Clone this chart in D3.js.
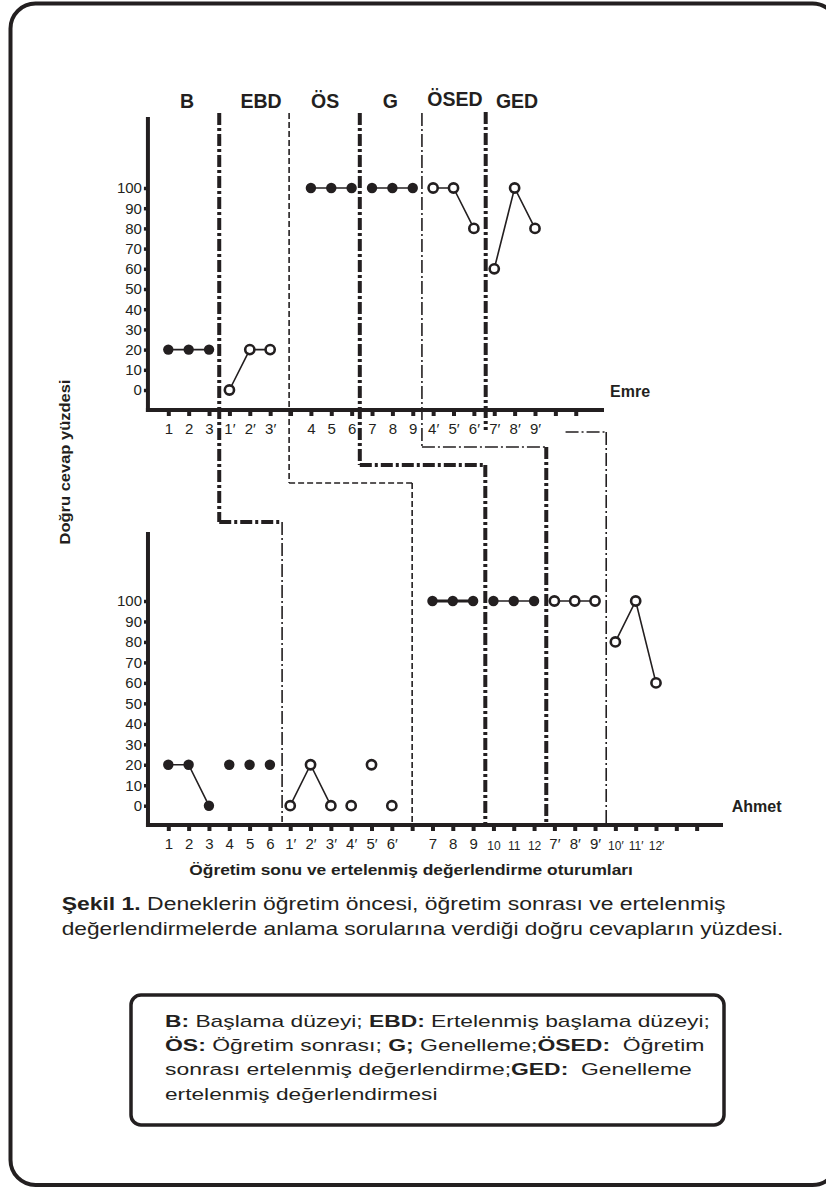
<!DOCTYPE html>
<html><head><meta charset="utf-8">
<script src="https://cdnjs.cloudflare.com/ajax/libs/d3/7.8.5/d3.min.js"></script>
<style>body{margin:0;background:#fff}svg{display:block}text{white-space:pre}</style>
</head><body>
<script>
// ---------------- DATA ----------------
const phases = ["B","EBD","ÖS","G","ÖSED","GED"];
const yTicks = [0,10,20,30,40,50,60,70,80,90,100];

// x-axis tick labels (one per slot, "" = unlabeled tick)
const emreTickLabels = ["1","2","3","1′","2′","3′","","4","5","6","7","8","9","4′","5′","6′","7′","8′","9′","",""];
const ahmetTickLabels = ["1","2","3","4","5","6","1′","2′","3′","4′","5′","6′","","7","8","9","10","11","12","7′","8′","9′","10′","11′","12′","",""];

// Emre
const emreSessions = ["1","2","3","1′","2′","3′","4","5","6","7","8","9","4′","5′","6′","7′","8′","9′"];
const emreValues   = [20,20,20, 0,20,20, 100,100,100, 100,100,100, 100,100,80, 60,100,80];
const emreRuns     = [1,1,1, 2,2,2, 3,3,3, 4,4,4, 5,5,5, 6,6,6];
const emreOpen     = [0,0,0, 1,1,1, 0,0,0, 0,0,0, 1,1,1, 1,1,1];

// Ahmet
const ahmetSessions = ["1","2","3","4","5","6","1′","2′","3′","4′","5′","6′","7","8","9","10","11","12","7′","8′","9′","10′","11′","12′"];
const ahmetValues   = [20,20,0, 20,20,20, 0,20,0, 0,20,0, 100,100,100, 100,100,100, 100,100,100, 80,100,60];
const ahmetRuns     = [1,1,1, 0,0,0, 2,2,2, 0,0,0, 3,3,3, 4,4,4, 5,5,5, 6,6,6];
const ahmetOpen     = [0,0,0, 0,0,0, 1,1,1, 1,1,1, 0,0,0, 0,0,0, 1,1,1, 1,1,1];

// ---------------- LAYOUT ----------------
const ink = "#231f20";
const font = "'Liberation Sans', Arial, Helvetica, sans-serif";
const W = 826, H = 1189;
const svg = d3.select("body").append("svg").attr("width", W).attr("height", H)
  .attr("font-family", font);

// outer frame
svg.append("rect").attr("x", 10.5).attr("y", 3.5).attr("width", 827).attr("height", 1181.5)
  .attr("rx", 25).attr("fill", "none").attr("stroke", ink).attr("stroke-width", 4);

const xTop = d3.scaleLinear().domain([0, 18]).range([168.3, 535]);
const yTop = d3.scaleLinear().domain([0, 100]).range([390, 188]);
const xBot = d3.scaleLinear().domain([0, 24]).range([168.3, 656]);
const yBot = d3.scaleLinear().domain([0, 100]).range([805.7, 601]);

const styles = {
  thick:  {w: 4,   d: "12,3,3,3"},
  thin:   {w: 1.6, d: "13,3,2,3"},
  dashed: {w: 1.6, d: "6,3"}
};
function seg(x1, y1, x2, y2, st) {
  const s = styles[st];
  svg.append("line").attr("x1", x1).attr("y1", y1).attr("x2", x2).attr("y2", y2)
    .attr("stroke", ink).attr("stroke-width", s.w).attr("stroke-dasharray", s.d);
}

// phase dividers (top panel -> bottom panel connectors)
const gTop = 113, axT = 410, axB = 825;
seg(xTop(2.5), gTop, xTop(2.5), 522, "thick");
seg(xTop(2.5), 522, xBot(5.6) - 2, 522, "thick");
seg(xBot(5.6), 522, xBot(5.6), 822, "thin");

seg(xTop(5.93), gTop, xTop(5.93), 483, "dashed");
seg(xTop(5.93), 483, xBot(12), 483, "dashed");
seg(xBot(12), 483, xBot(12), axB, "dashed");

seg(xTop(9.4), gTop, xTop(9.4), 465, "thick");
seg(xTop(9.4), 465, xBot(15.6), 465, "thick");
seg(xBot(15.6), 465, xBot(15.6), axB, "thick");

seg(xTop(12.45), gTop, xTop(12.45), 447, "thin");
seg(xTop(12.45), 447, xBot(18.6), 447, "thin");
seg(xBot(18.6), 447, xBot(18.6), axB, "thick");

seg(xTop(15.58), 112, xTop(15.58), 430, "thick");

seg(xTop(19.5), 432, xBot(21.55), 432, "thin");
seg(xBot(21.55), 432, xBot(21.55), axB, "thin");

// ---------------- PANELS ----------------
function panel(x, y, tickLabels, axisY, axisTop, axisRight, sessions, values, runs, open, thickRun) {
  const ax = x(-1);
  // y axis ticks
  const gy = svg.append("g").attr("transform", `translate(${ax},0)`)
    .call(d3.axisLeft(y).tickValues(yTicks).tickSize(4).tickPadding(2));
  gy.select(".domain").remove();
  gy.selectAll(".tick line").attr("stroke", ink).attr("stroke-width", 3.5);
  gy.selectAll(".tick text").attr("fill", ink).attr("font-size", 15).attr("font-family", font);

  // x axis ticks
  const gx = svg.append("g").attr("transform", `translate(0,${axisY})`)
    .call(d3.axisBottom(x).tickValues(d3.range(tickLabels.length))
      .tickFormat(i => tickLabels[i]).tickSize(6).tickPadding(7));
  gx.select(".domain").remove();
  gx.selectAll(".tick line").attr("stroke", ink).attr("stroke-width", 4);
  gx.selectAll(".tick text").attr("fill", ink).attr("font-family", font)
    .attr("font-size", d => (tickLabels[d].replace("′", "").length > 1 ? 12 : 15))
    .attr("dy", d => (tickLabels[d].replace("′", "").length > 1 ? "1em" : "0.71em"));

  // axis lines
  svg.append("line").attr("x1", ax).attr("x2", ax).attr("y1", axisTop).attr("y2", axisY + 2)
    .attr("stroke", ink).attr("stroke-width", 4);
  svg.append("line").attr("x1", ax - 2).attr("x2", axisRight).attr("y1", axisY).attr("y2", axisY)
    .attr("stroke", ink).attr("stroke-width", 4);

  const pts = sessions.map((s, i) => ({slot: tickLabels.indexOf(s), v: values[i], run: runs[i], open: open[i]}));
  const line = d3.line().x(d => x(d.slot)).y(d => y(d.v));
  const groups = d3.group(pts.filter(d => d.run > 0), d => d.run);
  for (const [run, arr] of groups) {
    svg.append("path").attr("d", line(arr)).attr("fill", "none").attr("stroke", ink)
      .attr("stroke-width", run === thickRun ? 3 : 1.6);
  }
  svg.append("g").selectAll("circle").data(pts).join("circle")
    .attr("cx", d => x(d.slot)).attr("cy", d => y(d.v))
    .attr("r", d => d.open ? 4.6 : 5.2)
    .attr("fill", d => d.open ? "#fff" : ink)
    .attr("stroke", ink).attr("stroke-width", d => d.open ? 2.6 : 0);
}

panel(xTop, yTop, emreTickLabels, axT, 117, 604, emreSessions, emreValues, emreRuns, emreOpen, -1);
panel(xBot, yBot, ahmetTickLabels, axB, 532, 723, ahmetSessions, ahmetValues, ahmetRuns, ahmetOpen, 3);

// phase headers
const headerSlot = [0.92, 4.55, 7.7, 10.9, 14.07, 17.12];
const headerBase = [108, 108, 108, 108, 106, 108];
svg.append("g").selectAll("text").data(phases).join("text")
  .attr("x", (d, i) => xTop(headerSlot[i])).attr("y", (d, i) => headerBase[i])
  .attr("text-anchor", "middle").attr("font-weight", "bold").attr("font-size", 19.5)
  .attr("fill", ink).text(d => d);

// subject names
svg.append("text").attr("x", 610).attr("y", 397).attr("font-weight", "bold").attr("font-size", 16)
  .attr("fill", ink).text("Emre");
svg.append("text").attr("x", 731.7).attr("y", 812).attr("font-weight", "bold").attr("font-size", 16)
  .attr("fill", ink).text("Ahmet");

// fit helper
function fit(t, x0, y0, target, extra) {
  const w = t.node().getComputedTextLength();
  t.attr("transform", `translate(${x0},${y0})${extra || ""} scale(${target / w},1)`);
}

// axis titles
const yt = svg.append("text").attr("text-anchor", "middle").attr("font-weight", "bold")
  .attr("font-size", 15).attr("fill", ink).text("Doğru cevap yüzdesi");
fit(yt, 70, 462, 165, " rotate(-90)");

const xt = svg.append("text").attr("font-weight", "bold").attr("font-size", 14.5)
  .attr("fill", ink).text("Öğretim sonu ve ertelenmiş değerlendirme oturumları");
fit(xt, 189.3, 875, 444);

// caption
function rich(parts, size) {
  const t = svg.append("text").attr("font-size", size).attr("fill", ink);
  parts.forEach(p => t.append("tspan").attr("font-weight", p[1] ? "bold" : "normal").text(p[0]));
  return t;
}
fit(rich([["Şekil 1.", 1], [" Deneklerin öğretim öncesi, öğretim sonrası ve ertelenmiş", 0]], 18.5), 61.7, 910, 664);
fit(rich([["değerlendirmelerde anlama sorularına verdiği doğru cevapların yüzdesi.", 0]], 18.5), 61.7, 935, 722);

// legend box
svg.append("rect").attr("x", 131).attr("y", 995).attr("width", 593).attr("height", 130)
  .attr("rx", 10).attr("fill", "none").attr("stroke", ink).attr("stroke-width", 3.5);
const legendLines = [
  [[["B:", 1], [" Başlama düzeyi; ", 0], ["EBD:", 1], [" Ertelenmiş başlama düzeyi;", 0]], 545],
  [[["ÖS:", 1], [" Öğretim sonrası; ", 0], ["G;", 1], [" Genelleme;", 0], ["ÖSED:", 1], ["  Öğretim", 0]], 540],
  [[["sonrası ertelenmiş değerlendirme;", 0], ["GED:", 1], ["  Genelleme", 0]], 527],
  [[["ertelenmiş değerlendirmesi", 0]], 272.5]
];
const legendBase = [1026.7, 1050.5, 1075, 1100];
legendLines.forEach((l, i) => fit(rich(l[0], 17), 165, legendBase[i], l[1]));
</script>
</body></html>
